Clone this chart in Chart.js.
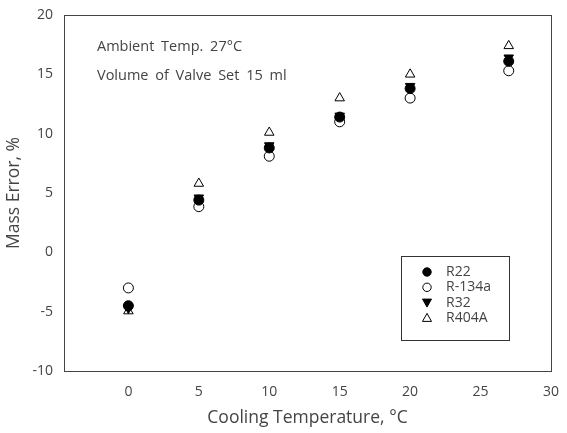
<!DOCTYPE html>
<html><head><meta charset="utf-8">
<script src="https://cdn.jsdelivr.net/npm/chart.js@4"></script>
<style>html,body{margin:0;padding:0;background:#fff;}#wrap{width:567px;height:433px;}</style>
</head><body><div id="wrap"><canvas id="c" width="567" height="433"></canvas></div>
<script>
const temps = [0, 5, 10, 15, 20, 27];
const r22 = [-4.5, 4.4, 8.8, 11.4, 13.8, 16.1];
const r134a = [-3.0, 3.85, 8.1, 11.0, 13.0, 15.3];
const r32 = [-4.7, 4.6, 9.0, 11.5, 14.0, 16.4];
const r404a = [-4.95, 5.8, 10.1, 13.0, 15.0, 17.4];
const seriesNames = ['R22', 'R-134a', 'R32', 'R404A'];
const notes = ['Ambient Temp. 27\u00B0C', 'Volume of Valve Set 15 ml'];
const xTicks = [0, 5, 10, 15, 20, 25, 30];

const FONT = '"Open Sans", Lato, sans-serif';
const TXT = '#444';
function pts(arr){ return temps.map((t,i)=>({x:t,y:arr[i]})); }
const styles = [
  {pointStyle:'circle', bg:'#000', rot:0, r:5},
  {pointStyle:'circle', bg:'#fff', rot:0, r:5},
  {pointStyle:'triangle', bg:'#000', rot:180, r:5.5},
  {pointStyle:'triangle', bg:'#fff', rot:0, r:5.5}
];
const data = [r22, r134a, r32, r404a];
const datasets = seriesNames.map((n,i)=>({
  label:n, data:pts(data[i]), showLine:false,
  pointStyle:styles[i].pointStyle, pointRotation:styles[i].rot,
  pointRadius:styles[i].r, pointHoverRadius:styles[i].r,
  pointBackgroundColor:styles[i].bg, pointBorderColor:'#000', pointBorderWidth:1
}));
datasets[0].order = 0; datasets[1].order = 3; datasets[2].order = 1; datasets[3].order = 2;

const overlay = {
  id:'overlay',
  afterDraw(chart){
    const ctx = chart.ctx; const a = chart.chartArea;
    ctx.save();
    ctx.strokeStyle = '#444'; ctx.lineWidth = 1;
    ctx.strokeRect(Math.round(a.left)+0.5, Math.round(a.top)+0.5, Math.round(a.right-a.left), Math.round(a.bottom-a.top));
    ctx.fillStyle = TXT; ctx.font = '14.5px ' + FONT; ctx.textBaseline = 'middle'; ctx.textAlign='left';
    if ('wordSpacing' in ctx) ctx.wordSpacing = '3px';
    ctx.fillText(notes[0], 97, 47);
    ctx.fillText(notes[1], 97, 76);
    if ('wordSpacing' in ctx) ctx.wordSpacing = '0px';
    ctx.strokeStyle = '#333';
    ctx.strokeRect(401.5, 256.5, 108, 84);
    ctx.font = '14px ' + FONT;
    seriesNames.forEach((n,i)=>{
      const y = 272 + i*15.3;
      const s = styles[i];
      ctx.fillStyle = s.bg; ctx.strokeStyle = '#000'; ctx.lineWidth = 1;
      ctx.beginPath();
      if (s.pointStyle==='circle') ctx.arc(427, y, 4.2, 0, Math.PI*2);
      else if (s.rot===180){ ctx.moveTo(422.5,y-3.5); ctx.lineTo(431.5,y-3.5); ctx.lineTo(427,y+4.5); ctx.closePath(); }
      else { ctx.moveTo(422.5,y+3.5); ctx.lineTo(431.5,y+3.5); ctx.lineTo(427,y-4.5); ctx.closePath(); }
      ctx.fill(); ctx.stroke();
      ctx.fillStyle = TXT;
      ctx.fillText(n, 446, y);
    });
    ctx.restore();
  }
};

new Chart(document.getElementById('c'), {
  type:'scatter',
  data:{datasets},
  options:{
    responsive:false, animation:false, devicePixelRatio:1,
    layout:{padding:{top:15, right:11, left:0, bottom:0}},
    plugins:{legend:{display:false}, tooltip:{enabled:false}},
    scales:{
      x:{
        type:'linear', min:-4.57, max:30,
        afterBuildTicks(s){ s.ticks = xTicks.map(v=>({value:v})); },
        afterFit(s){ s.height = 62; },
        grid:{display:false, drawOnChartArea:false, drawTicks:true, tickLength:5, color:'#444'},
        border:{display:true, color:'#444'},
        ticks:{color:TXT, font:{family:FONT, size:14}, padding:8, autoSkip:false, maxRotation:0},
        title:{display:true, text:'Cooling Temperature, \u00B0C', color:TXT, font:{family:FONT, size:17.5}, padding:{top:5}}
      },
      y:{
        min:-10, max:20,
        ticks:{stepSize:5, color:TXT, font:{family:FONT, size:14}, padding:6},
        afterFit(s){ s.width = 64; },
        grid:{display:false, drawOnChartArea:false, drawTicks:true, tickLength:5, color:'#444'},
        border:{display:true, color:'#444'},
        title:{display:true, text:'Mass Error, %', color:TXT, font:{family:FONT, size:17.5}, padding:{bottom:0}}
      }
    }
  },
  plugins:[overlay]
});
</script>
</body></html>
